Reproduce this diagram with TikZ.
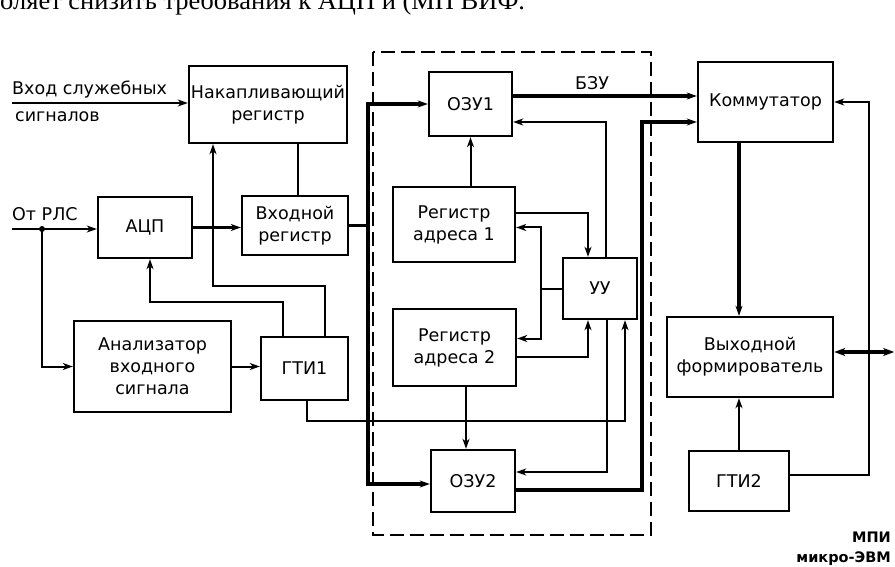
\documentclass[tikz,border=0pt]{standalone}
\usepackage{fontspec}
\setmainfont{DejaVu Sans}
\newfontfamily\cutserif{Liberation Serif}
\usetikzlibrary{arrows.meta,calc}
\newcommand\dfs{\fontsize{17.5}{22}\selectfont}
\begin{document}
\begin{tikzpicture}[x=1pt,y=-1pt,
  box/.style={draw, line width=2.4pt, inner sep=0pt, align=center, font=\dfs},
  ln/.style={line width=2pt},
  bus/.style={line width=3.6pt},
  arr/.style={-{Stealth[length=10pt,width=7pt,inset=3pt]}},
  barr/.style={{Stealth[length=11pt,width=8pt,inset=3pt]}-{Stealth[length=11pt,width=8pt,inset=3pt]}},
  lbl/.style={inner sep=0pt, font=\dfs},
  frame/.style={line width=1.5pt, dash pattern=on 14pt off 6pt}]
\useasboundingbox (0,0) rectangle (895,567);

% cut line of page text (cut at the top edge as in the reference)
\node[anchor=base west, inner sep=0pt, font=\cutserif\fontsize{26.5}{26.5}\selectfont] (pagetext) at (0,10) {оляет снизить требования к АЦП и (МП ВИФ.};

% dashed frame
\draw[frame] (373,52) rectangle (651,535);

% boxes
\node[box, minimum width=158, minimum height=77] (nak) at (268,104.5) {Накапливающий\\регистр};
\node[box, minimum width=94, minimum height=61] (adc) at (145,227.5) {АЦП};
\node[box, minimum width=106, minimum height=59] (vreg) at (295,225.5) {Входной\\регистр};
\node[box, minimum width=157, minimum height=91] (anal) at (152.5,366.5) {Анализатор\\входного\\сигнала};
\node[box, minimum width=87, minimum height=63] (gti1) at (304.5,368.5) {ГТИ1};
\node[box, minimum width=83, minimum height=64] (ozu1) at (470.5,104) {ОЗУ1};
\node[box, minimum width=122, minimum height=75] (ra1) at (454,224.5) {Регистр\\адреса 1};
\node[box, minimum width=74, minimum height=61] (uu) at (600,288.5) {УУ};
\node[box, minimum width=123, minimum height=77] (ra2) at (454.5,347.5) {Регистр\\адреса 2};
\node[box, minimum width=84, minimum height=62] (ozu2) at (473,481) {ОЗУ2};
\node[box, minimum width=135, minimum height=80] (kom) at (765.5,102) {Коммутатор};
\node[box, minimum width=166, minimum height=80] (vyh) at (750,357) {Выходной\\формирователь};
\node[box, minimum width=100, minimum height=60] (gti2) at (739,481) {ГТИ2};

% text labels
\node[lbl, anchor=base west] (tin1) at (12,95) {Вход служебных};
\node[lbl, anchor=base west] (tin2) at (15,122) {сигналов};
\node[lbl, anchor=base west] (tin3) at (12,220) {От РЛС};
\node[lbl, anchor=base east, font=\fontsize{14.5}{18}\selectfont\bfseries] (mpi) at (891,542) {МПИ};
\node[lbl, anchor=base east, font=\fontsize{14.5}{18}\selectfont\bfseries] (mevm) at (891,562) {микро-ЭВМ};

% inputs
\coordinate (in1) at (12,103);
\draw[ln,arr] (in1) -- (in1 -| nak.west);
\coordinate (in2) at (12,229);
\coordinate (j1) at (42,229);
\draw[ln,arr] (in2) -- (in2 -| adc.west);
\fill (j1) circle (3);
\draw[ln,arr] (j1) |- (anal.west);

% left part
\draw[bus,arr] (adc.east) -- (adc.east -| vreg.west);
\draw[ln] ([xshift=3]vreg.north) -- ([xshift=3]vreg.north |- nak.south);
\coordinate (c1) at (213,286);
\draw[ln,arr] ([xshift=20]gti1.north) |- (c1) -- (c1 |- nak.south);
\coordinate (c2) at (150,302);
\draw[ln,arr] ([xshift=-22]gti1.north) |- (c2) -- (c2 |- adc.south);
\draw[ln,arr] (anal.east) -- (anal.east -| gti1.west);

% input bus
\coordinate (b1) at (368,104);
\coordinate (b2) at (368,484);
\draw[bus] (vreg.east) -- (vreg.east -| b1);
\draw[bus,arr] (b2) -- (b1) -- (ozu1.west);
\draw[bus,arr] (b1) -- (b2) -- (b2 -| ozu2.west);

% BZU
\coordinate (o1o) at ([yshift=8]ozu1.east);
\draw[bus,arr] (o1o) -- (o1o -| kom.west) node[pos=0.43, above=4pt, lbl] (bzu) {БЗУ};

% second input to commutator
\coordinate (o2o) at ([yshift=-9]ozu2.east);
\coordinate (k2) at ([yshift=-20]kom.west);
\draw[bus,arr] (o2o) -| ($(k2)+(-55,0)$) -- (k2);

% control unit links
\draw[ln,arr] ([xshift=6]uu.north) |- ([yshift=-18]ozu1.east);
\draw[ln,arr] ([yshift=11]ra1.east) -| ([xshift=-12]uu.north);
\coordinate (j2) at ($(uu.west)+(-21,0)$);
\draw[ln] (uu.west) -- (j2);
\draw[ln,arr] (j2) |- ([yshift=-3]ra1.east);
\draw[ln,arr] (j2) |- ([yshift=9]ra2.east);
\draw[ln,arr] ([yshift=-9]ra2.east) -| ([xshift=-12]uu.south);
\draw[ln,arr] (ozu1.south |- ra1.north) -- (ozu1.south);
\coordinate (r2o) at ($(ozu2.north)+(-7,0)$);
\draw[ln,arr] (r2o |- ra2.south) -- (r2o);
\draw[ln,arr] ([xshift=7]uu.south) |- ([yshift=9]ozu2.east);
\coordinate (c3) at (400,421);
\draw[ln,arr] ([xshift=2]gti1.south) |- (c3) -| ([xshift=25]uu.south);

% right part
\draw[bus,arr] (gti2.north |- kom.south) -- (gti2.north |- vyh.north);
\draw[ln,arr] (gti2.north) -- (gti2.north |- vyh.south);
\draw[ln,arr] ([yshift=6]gti2.east) -| ($(kom.east)+(35,0)$) -- (kom.east);
\coordinate (vo) at ([yshift=5]vyh.east);
\draw[bus,barr] (vo) -- ($(vo)+(60,0)$);
\end{tikzpicture}
\end{document}
